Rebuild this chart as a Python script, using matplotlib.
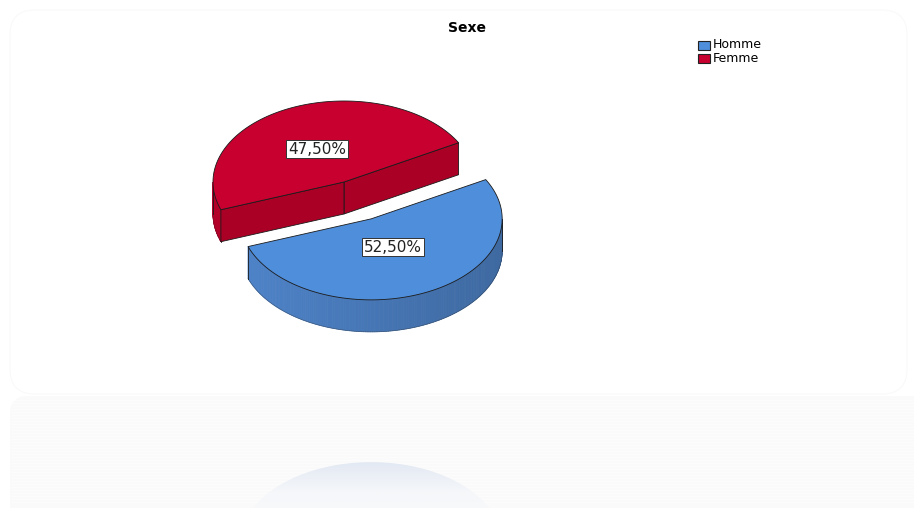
import numpy as np
import matplotlib.pyplot as plt
from matplotlib.colors import LinearSegmentedColormap
from matplotlib.patches import Polygon, FancyBboxPatch, Rectangle

categories = ['Homme', 'Femme']
values = [52.5, 47.5]
labels = ['52,50%', '47,50%']
top_colors = ['#4f8edb', '#c8002f']
side_colors = [(0.29, 0.49, 0.75), (0.67, 0.0, 0.15)]

# pie geometry in pixel units
a, b = 131.0, 81.0
depth = 32.0
centre = np.array([344.0, 182.0])
start = 200.0
explode = [0.5, 0.0]

plt.rcParams['font.family'] = ['DejaVu Sans']

fig = plt.figure(figsize=(9.14, 5.08), dpi=100)
ax = fig.add_axes([0, 0, 1, 1])
ax.axis('off')


def pt(c, t, dz=0.0):
    t = np.radians(np.atleast_1d(t))
    return np.column_stack([c[0] + a * np.cos(t), c[1] - b * np.sin(t) + dz])


# chart frame and the faint floor with the reflection
frame = FancyBboxPatch((10, 10), 897, 384, boxstyle='round,pad=0,rounding_size=25',
                       fc='white', ec='#f9f9f9', lw=0.8, zorder=0.5)
ax.add_patch(frame)
floor = FancyBboxPatch((10, 396), 930, 130, boxstyle='round,pad=0,rounding_size=18',
                       fc='#fafafa', ec='none', zorder=0)
ax.add_patch(floor)
for y in np.arange(400, 505, 3):
    ax.plot([12, 914], [y, y], color='white', lw=0.6, alpha=0.6, zorder=0.6)

# angles for each slice
angles = []
t = start
for v in values:
    span = 360.0 * v / sum(values)
    angles.append((t, t + span))
    t += span

centres = []
for (t1, t2), e in zip(angles, explode):
    mid = np.radians((t1 + t2) / 2)
    centres.append(centre + np.array([e * a * np.cos(mid), -e * b * np.sin(mid)]))

# reflection of the front slice bottom
c0 = centres[0]
refl_y = 397.0
rc = np.array([c0[0], 2 * refl_y - (c0[1] + depth)])
ell = pt(rc, np.linspace(0, 360, 200))
grad = np.linspace(0, 1, 60).reshape(-1, 1)
cmap = LinearSegmentedColormap.from_list('refl', ['#e3e9f3', '#f5f7fa', '#fafafa'])
im = ax.imshow(grad, extent=(rc[0] - a, rc[0] + a, rc[1] - b + 60, rc[1] - b),
               cmap=cmap, aspect='auto', zorder=1)
clip = Polygon(ell, closed=True, fc='none', ec='none')
ax.add_patch(clip)
im.set_clip_path(clip)


def draw_slice(i, z):
    c = centres[i]
    t1, t2 = angles[i]
    top = top_colors[i]
    side = np.array(side_colors[i])
    edge = dict(ec='#1a1a1a', lw=0.6)

    # outer rim, only the front half is seen
    for f0, f1 in ((180.0, 360.0), (540.0, 720.0)):
        lo, hi = max(t1, f0), min(t2, f1)
        if hi <= lo:
            continue
        steps = np.linspace(lo, hi, int(hi - lo) + 2)
        for s0, s1 in zip(steps[:-1], steps[1:]):
            k = 1.0 - 0.2 * (np.cos(np.radians((s0 + s1) / 2)) + 1) / 2
            fc = np.clip(side * k * 1.05, 0, 1)
            quad = np.vstack([pt(c, [s0, s1]), pt(c, [s1, s0], depth)])
            ax.add_patch(Polygon(quad, closed=True, fc=fc, ec=fc, lw=0.6, zorder=z))
        ax.plot(*pt(c, steps, depth).T, color='#2a2a2a', lw=0.4, alpha=0.5, zorder=z + 0.1)
        for s in (lo, hi):
            p = pt(c, s)[0]
            ax.plot([p[0], p[0]], [p[1], p[1] + depth], color='#1a1a1a', lw=0.6,
                    zorder=z + 0.1)

    # cut faces turned towards the viewer
    for ang, turn in ((t1, -90), (t2, 90)):
        if np.sin(np.radians(ang + turn)) < 0:
            p = pt(c, ang)[0]
            face = np.array([c, p, p + [0, depth], c + [0, depth]])
            ax.add_patch(Polygon(face, closed=True, fc=side, zorder=z + 0.2, **edge))

    # top face
    arc = pt(c, np.linspace(t1, t2, 200))
    ax.add_patch(Polygon(np.vstack([c, arc]), closed=True, fc=top, zorder=z + 0.3, **edge))


draw_slice(1, 2)
draw_slice(0, 3)

# value labels
label_pos = [(393, 247), (317, 149)]
for (x, y), lab in zip(label_pos, labels):
    ax.text(x, y, lab, fontsize=11, ha='center', va='center', zorder=5, color='#222222',
            bbox=dict(boxstyle='square,pad=0.12', fc='white', ec='#333333', lw=0.7))

ax.text(467, 28, 'Sexe', fontsize=10, fontweight='bold', ha='center', va='center')

# legend
for j, (cat, col) in enumerate(zip(categories, top_colors)):
    y = 45 + j * 13
    ax.add_patch(Rectangle((698, y - 4.5), 12, 9, fc=col, ec='#222222', lw=0.8, zorder=5))
    ax.text(713, y, cat, fontsize=9, ha='left', va='center', zorder=5)

ax.set_xlim(0, 914)
ax.set_ylim(508, 0)
fig.savefig('out.png', dpi=100)
